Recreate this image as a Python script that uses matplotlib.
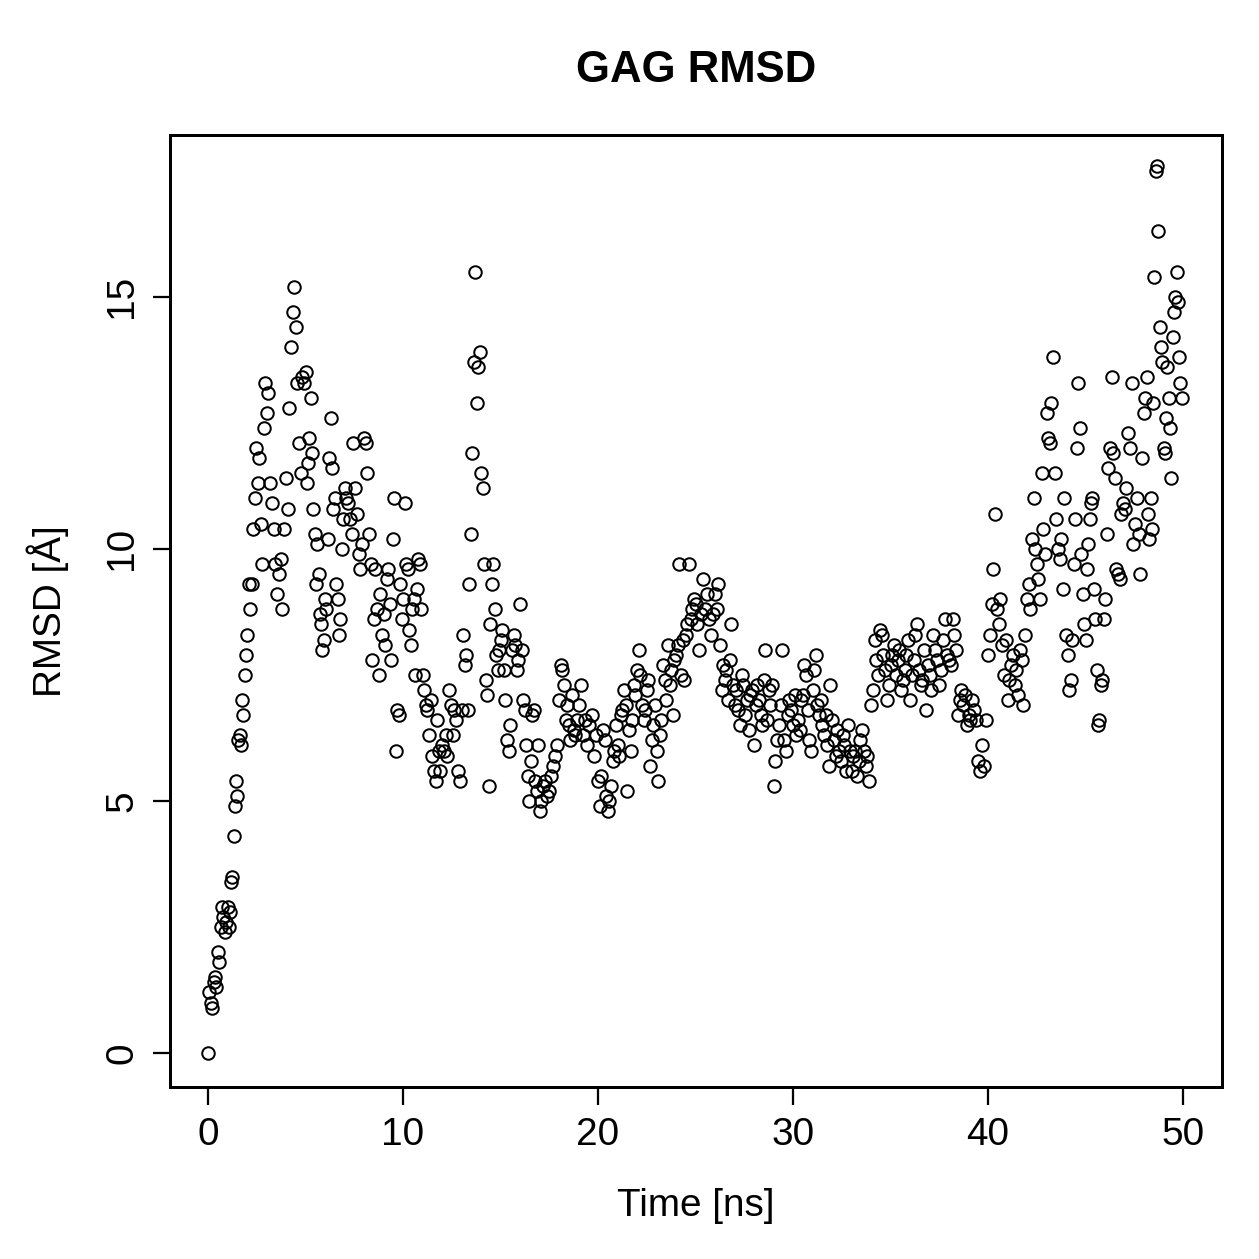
import matplotlib
matplotlib.use("Agg")
import matplotlib.pyplot as plt
import numpy as np

plt.rcParams['font.family'] = ['Liberation Sans', 'DejaVu Sans']

# RMSD readings, one inner list per ns of simulation time
rmsd_00_10 = [
    [0.0, 1.2, 1.0, 0.9, 1.4, 1.5, 1.3, 2.0, 1.8, 2.5, 2.9, 2.7, 2.4, 2.6],
    [2.9, 2.5, 2.8, 3.4, 3.5, 4.3, 4.9, 5.4, 5.1, 6.2, 6.3, 6.1, 7.0, 6.7, 7.5, 7.9],
    [8.3, 9.3, 8.8, 9.3, 10.4, 11.0, 12.0, 11.3, 11.8, 10.5, 9.7, 12.4, 13.3],
    [12.7, 13.1, 11.3, 10.9, 10.4, 9.7, 9.1, 9.5, 9.8, 8.8, 10.4],
    [11.4, 10.8, 12.8, 14.0, 14.7, 15.2, 14.4, 13.3, 12.1, 11.5, 13.4, 13.3],
    [13.5, 11.3, 11.7, 12.2, 13.0, 11.9, 10.8, 10.3, 9.3, 10.1, 9.5, 8.7, 8.5, 8.0, 8.2],
    [9.0, 8.8, 10.2, 11.8, 12.6, 11.6, 10.8, 11.0, 9.3, 9.0, 8.3, 8.6, 10.0, 10.6],
    [11.2, 11.0, 10.9, 10.6, 10.3, 12.1, 11.2, 10.7, 9.9, 9.6, 10.1],
    [12.2, 12.1, 11.5, 10.3, 9.7, 7.8, 8.6, 9.6, 8.8, 7.5, 9.1, 8.3],
    [8.7, 8.1, 9.4, 9.6, 8.9, 7.8, 10.2, 11.0, 6.0, 6.8, 6.7, 9.3, 8.6],
]
rmsd_10_20 = [
    [9.0, 10.9, 9.7, 9.6, 8.4, 8.1, 8.8, 9.0, 7.5, 9.2, 9.8, 9.7, 8.8],
    [7.5, 7.2, 6.9, 6.8, 6.3, 7.0, 5.9, 5.6, 5.4, 6.6, 6.0, 5.6],
    [6.1, 6.0, 6.3, 5.9, 7.2, 6.9, 6.3, 6.8, 6.6, 5.6, 5.4],
    [6.8, 8.3, 7.7, 7.9, 6.8, 9.3, 10.3, 11.9, 13.7, 15.5, 12.9, 13.6, 13.9],
    [11.5, 11.2, 9.7, 7.4, 7.1, 5.3, 8.5, 9.3, 9.7, 8.8, 7.9, 7.6, 8.0],
    [8.2, 8.4, 7.6, 7.0, 6.2, 6.0, 6.5, 8.0, 8.3, 8.1, 7.6, 7.8],
    [8.9, 8.0, 7.0, 6.8, 6.1, 5.5, 5.0, 5.8, 6.7, 6.8, 5.4, 5.2, 6.1],
    [4.8, 5.0, 5.3, 5.4, 5.1, 5.2, 5.5, 5.7, 5.9, 6.1],
    [7.0, 7.7, 7.6, 7.3, 6.6, 6.9, 6.5, 6.2, 7.1, 6.4, 6.3, 6.6],
    [6.9, 7.3, 6.3, 6.6, 6.1, 6.5, 6.7, 5.9, 6.3],
]
rmsd_20_30 = [
    [5.4, 4.9, 5.5, 6.4, 6.2, 5.1, 4.8, 5.0, 5.3, 5.8, 6.0, 6.5],
    [6.1, 5.9, 6.7, 6.8, 7.2, 6.9, 5.2, 6.4, 6.0, 6.6, 7.3, 7.1],
    [7.6, 8.0, 7.5, 6.9, 6.6, 6.8, 7.2, 7.4, 5.7, 6.2, 6.5, 6.9],
    [6.0, 5.4, 6.3, 6.6, 7.7, 7.4, 7.0, 8.1, 7.3, 7.6, 6.7, 7.8],
    [7.9, 8.1, 9.7, 7.5, 8.2, 7.4, 8.3, 8.5, 9.7, 8.6, 8.8, 9.0],
    [8.9, 8.5, 8.0, 8.7, 9.4, 8.8, 9.1, 8.6, 8.3, 8.7],
    [9.1, 8.8, 9.3, 8.1, 7.2, 7.7, 7.4, 7.6, 7.0, 7.8, 8.5, 7.3],
    [6.9, 7.2, 6.8, 6.5, 7.5, 7.3, 6.7, 7.0, 6.4, 7.1, 7.2],
    [6.1, 6.9, 7.3, 7.0, 6.7, 6.5, 7.4, 8.0, 6.6, 7.2, 6.9, 7.3],
    [5.3, 5.8, 6.2, 6.5, 6.9, 8.0, 6.2, 6.0, 6.7, 7.0, 6.8],
]
rmsd_30_40 = [
    [6.5, 7.1, 6.3, 6.6, 6.4, 7.0, 7.1, 7.7, 7.5, 6.8, 6.2, 6.0],
    [7.2, 7.6, 7.9, 6.9, 6.7, 7.0, 6.5, 6.3, 6.7, 6.1, 5.7, 7.3],
    [6.6, 6.2, 5.9, 6.4, 6.0, 5.8, 6.3, 6.1, 5.6, 6.5, 6.0],
    [5.6, 5.9, 6.0, 5.5, 5.8, 6.2, 6.4, 6.0, 5.7, 5.9, 5.4],
    [6.9, 7.2, 8.2, 7.8, 7.5, 8.4, 8.3, 7.9, 7.6, 7.0, 7.3],
    [7.7, 7.9, 8.1, 7.5, 7.8, 8.0, 7.2, 7.4, 7.6, 7.9, 8.2],
    [7.0, 7.5, 7.8, 8.3, 8.5, 7.6, 7.3, 7.4, 8.0, 6.8, 7.7],
    [7.5, 7.2, 8.3, 8.0, 7.8, 7.3, 7.6, 8.2, 8.6, 7.9],
    [7.8, 7.7, 8.6, 8.3, 8.0, 6.7, 7.0, 7.2, 6.9, 7.1, 6.5],
    [6.7, 6.6, 7.0, 6.8, 6.6, 5.8, 5.6, 6.1, 5.7, 6.6],
]
rmsd_40_50 = [
    [7.9, 8.3, 8.9, 9.6, 10.7, 8.8, 8.5, 9.0, 8.1, 7.5, 8.2],
    [7.0, 7.4, 7.7, 7.9, 7.3, 7.6, 7.1, 8.0, 7.8, 6.9, 8.3],
    [9.0, 9.3, 8.8, 10.2, 11.0, 10.0, 9.7, 9.4, 9.0, 11.5, 10.4, 9.9],
    [12.7, 12.2, 12.1, 12.9, 13.8, 11.5, 10.6, 10.0, 9.8, 10.2, 9.2, 11.0],
    [8.3, 7.9, 7.2, 7.4, 8.2, 9.7, 10.6, 12.0, 13.3, 12.4, 9.9, 9.1, 8.5],
    [8.2, 9.6, 10.1, 10.6, 10.9, 11.0, 9.2, 8.6, 7.6, 6.5, 6.6, 7.3, 7.4, 8.6],
    [9.0, 10.3, 11.6, 12.0, 13.4, 11.9, 11.4, 9.6, 9.5, 9.4, 10.7, 10.9],
    [10.8, 11.2, 12.3, 12.0, 13.3, 10.1, 10.5, 11.0, 10.3, 9.5, 11.8],
    [12.7, 13.0, 13.4, 10.7, 10.2, 11.0, 10.4, 12.9, 15.4, 17.5, 17.6, 16.3, 14.4, 14.0, 13.7],
    [12.0, 11.9, 12.6, 13.6, 13.0, 12.4, 11.4, 14.2, 14.7, 15.0, 15.5, 14.9, 13.8, 13.3, 13.0],
]

x_ticks = [0, 10, 20, 30, 40, 50]
y_ticks = [0, 5, 10, 15]

# spread each ns chunk evenly over its nanosecond
chunks = rmsd_00_10 + rmsd_10_20 + rmsd_20_30 + rmsd_30_40 + rmsd_40_50
time, rmsd = [], []
for ns, vals in enumerate(chunks):
    time.extend(ns + np.arange(len(vals)) / len(vals))
    rmsd.extend(vals)

fig = plt.figure(figsize=(1259 / 180, 1259 / 180), dpi=180)
ax = fig.add_axes([170 / 1259, 1 - 1087 / 1259, (1222 - 170) / 1259, (1087 - 135) / 1259])

ax.plot(time, rmsd, 'o', ms=5.0, mfc='none', mec='black', mew=0.8)

ax.set_xlim(-1.95, 52.0)
ax.set_ylim(-0.675, 18.21)
ax.set_xticks(x_ticks)
ax.set_yticks(y_ticks)
ax.tick_params(direction='out', length=7, width=0.9, labelsize=15.5, pad=5)
for lab in ax.get_yticklabels():
    lab.set_rotation(90)
    lab.set_va('center')
for s in ax.spines.values():
    s.set_linewidth(1.2)

ax.set_xlabel('Time [ns]', fontsize=15.5, labelpad=14)
ax.set_ylabel('RMSD [Å]', fontsize=15.5, labelpad=14)
fig.text(0.5 * (170 + 1222) / 1259, 1 - 70 / 1259, 'GAG RMSD', ha='center', va='center',
         fontsize=17.5, fontweight='bold')

fig.savefig('out.png', dpi=180)
